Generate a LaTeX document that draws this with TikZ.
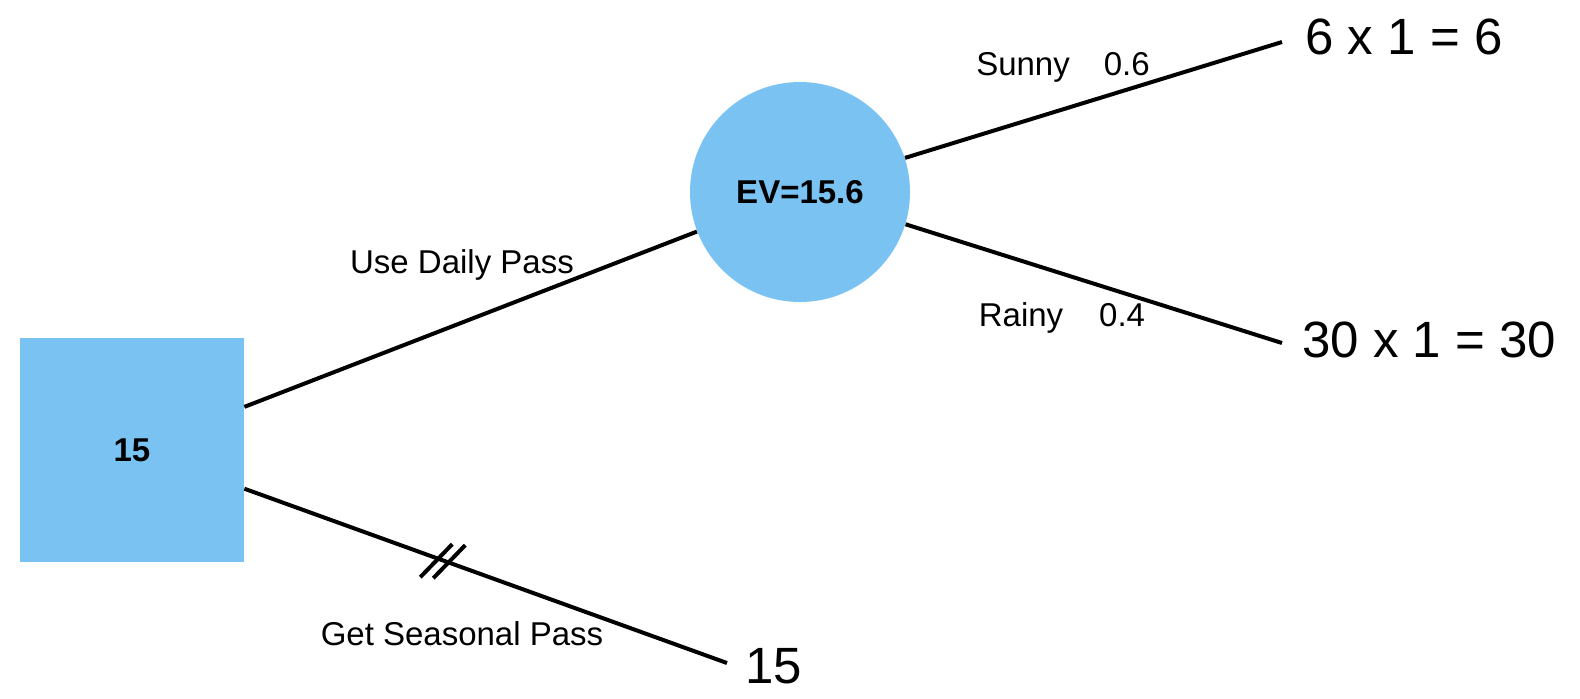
\documentclass[tikz,border=0pt]{standalone}
\usepackage{fontspec}
\setmainfont{Liberation Sans}
\definecolor{nodeblue}{RGB}{121,194,241}
\tikzset{
  branch/.style={line width=2pt},
  lbl/.style={font=\fontsize{16.5}{20}\selectfont, inner sep=0pt},
  payoff/.style={font=\fontsize{25.5}{30}\selectfont, inner sep=0pt, anchor=west},
}
\begin{document}
\begin{tikzpicture}[x=0.5pt,y=0.5pt,yscale=-1,xscale=1]
        \useasboundingbox (0,0) rectangle (1580,698);
        % Decision Node
        \node (decide) at (132,450) [fill=nodeblue, minimum size=112pt, inner sep=0pt, font=\fontsize{16.5}{20}\selectfont\bfseries] {15};
        % Chance Node
        \node (chance) at (800,192) [circle, fill=nodeblue, minimum size=110pt, inner sep=0pt, font=\fontsize{16.5}{20}\selectfont\bfseries] {EV=15.6};
        % Line Ends
        \coordinate (endSunny) at (1282,42);
        \coordinate (endRainy) at (1282,343);
        \coordinate (endSeason) at (727,663);
        % Payoff Nodes
        \node (paySunny) at (1305,37) [payoff] {6 x 1 = 6};
        \node (payRainy) at (1302,340) [payoff] {30 x 1 = 30};
        \node (paySeason) at (745,666) [payoff] {15};
        % Text Node
        \node (lblDaily) at (462,265) [lbl] {Use Daily Pass};
        % Text Node
        \node (lblSeason) at (462,634) [lbl] {Get Seasonal Pass};
        % Text Node
        \node (lblSunny) at (1063,67) [lbl] {Sunny\hspace{17pt}0.6};
        % Text Node
        \node (lblRainy) at (1062,318) [lbl] {Rainy\hspace{18pt}0.4};
        % Connection
        \draw [branch] (decide.21) -- (chance.201.2);
        % Connection
        \draw [branch] (decide.-19.6) -- (endSeason) coordinate[pos=0.41] (cut);
        % Connection
        \draw [branch] (chance.18) -- (endSunny);
        % Connection
        \draw [branch] (chance.-17.5) -- (endRainy);
        % Cut Mark
        \draw [branch] (cut) ++(-22,17) -- ++(32,-33);
        \draw [branch] (cut) ++(-9,18) -- ++(32,-33);
\end{tikzpicture}
\end{document}
